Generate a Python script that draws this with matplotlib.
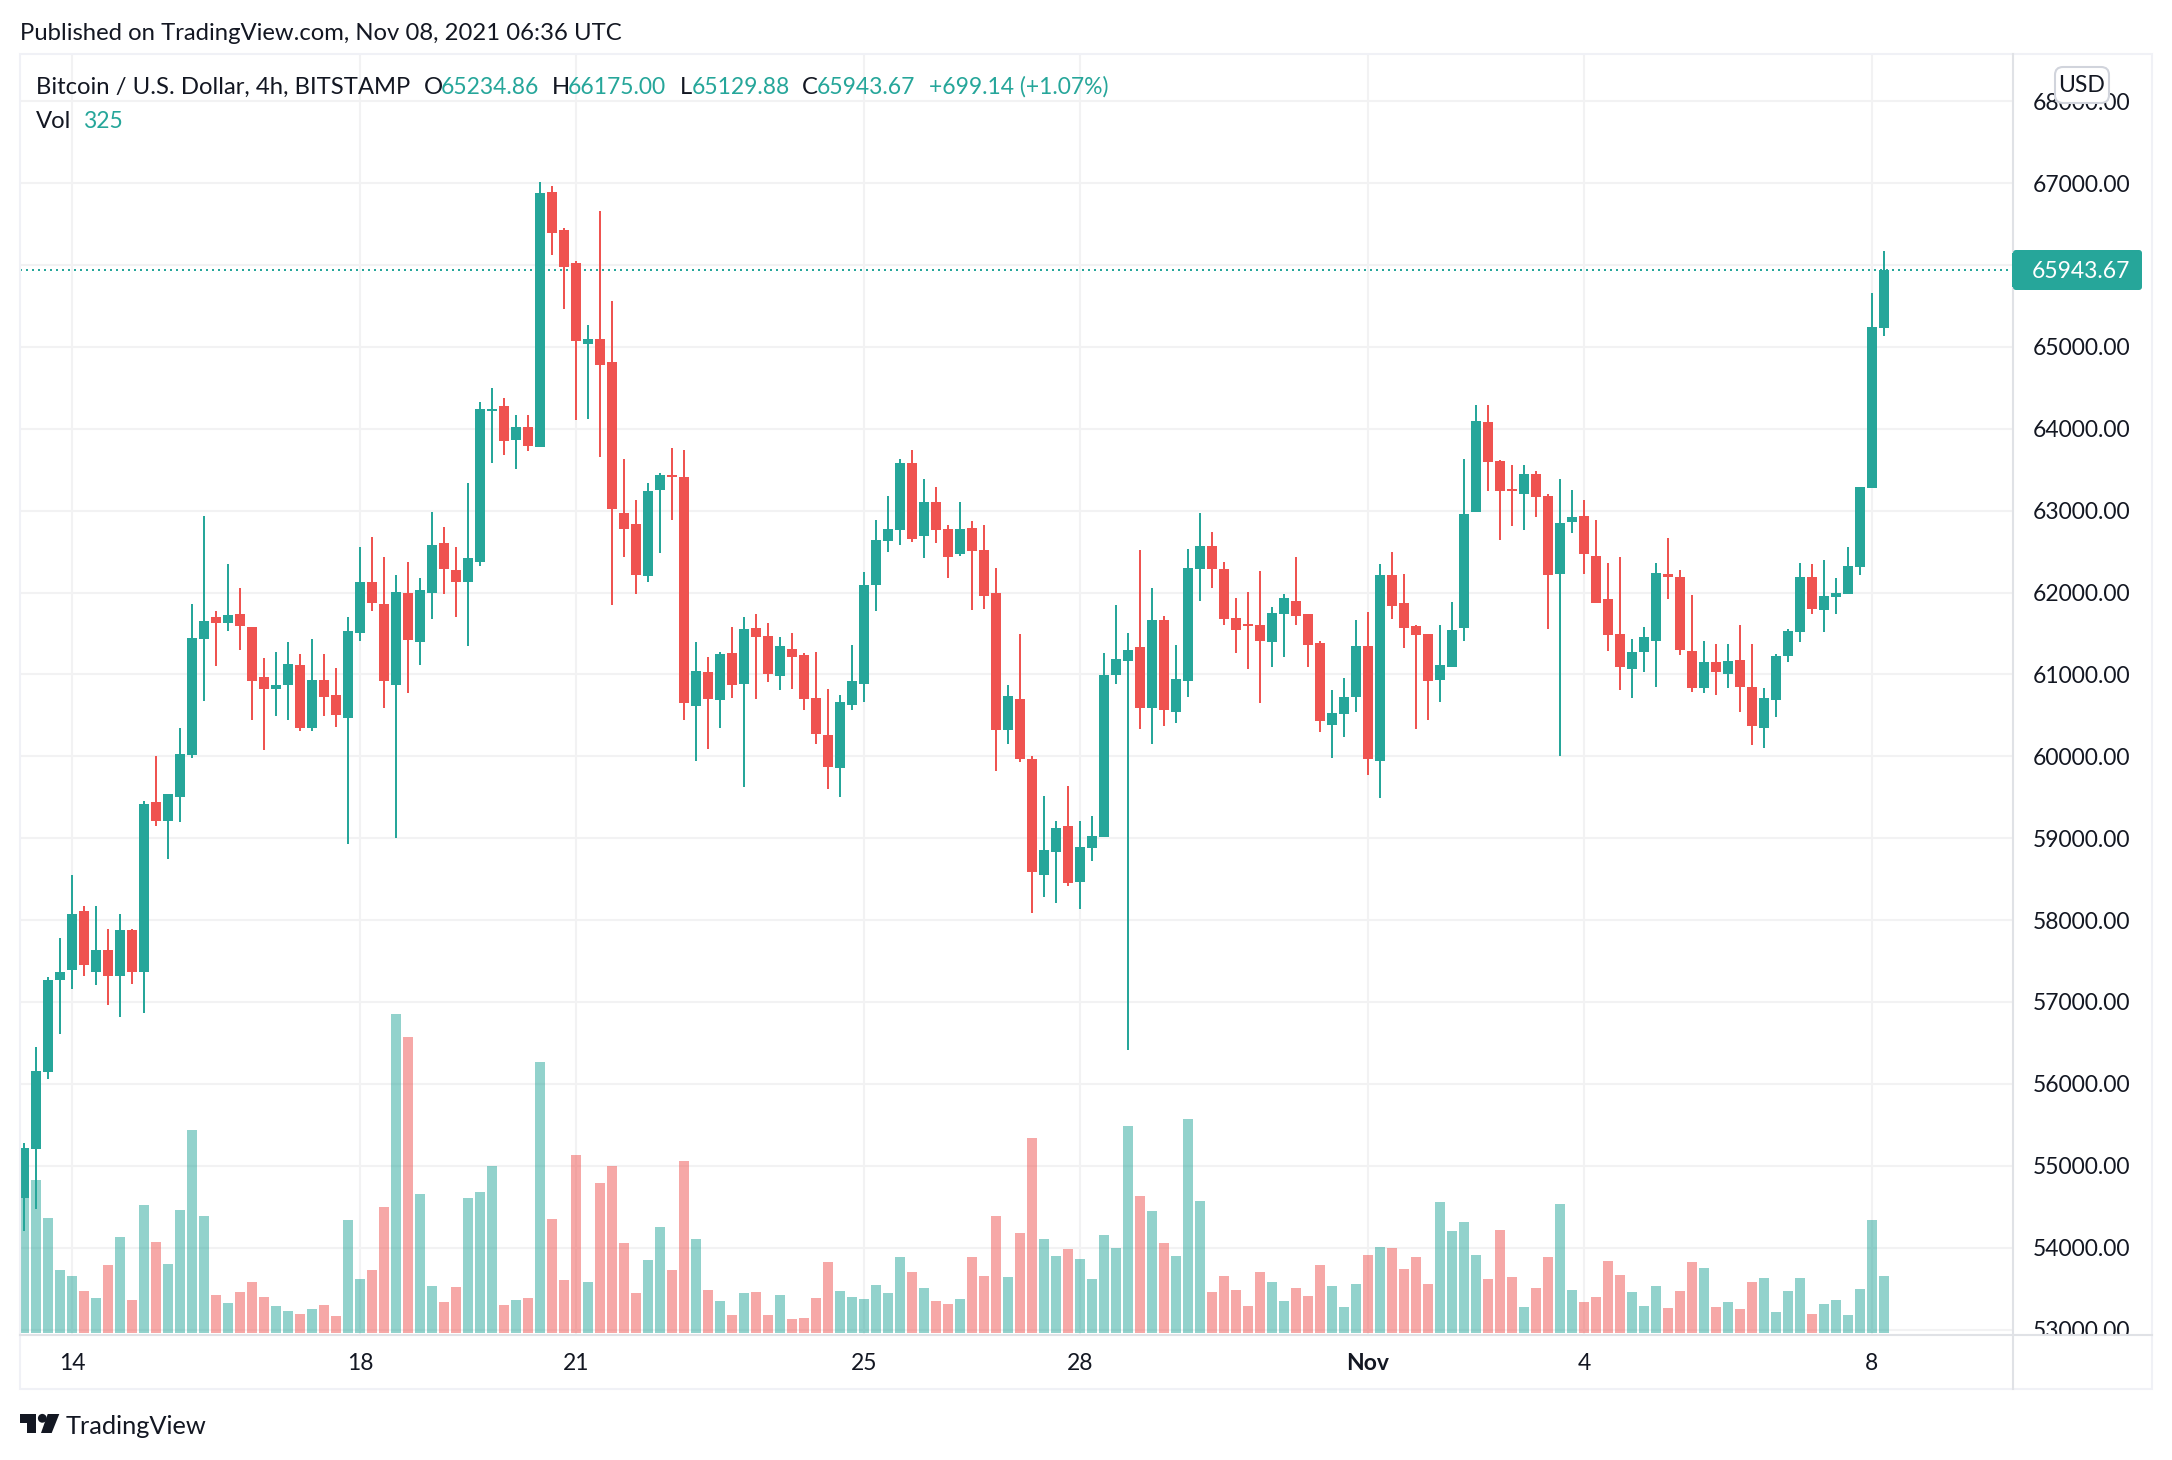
import matplotlib
matplotlib.use("Agg")
import matplotlib.pyplot as plt
import numpy as np
from matplotlib.lines import Line2D
from matplotlib.patches import Rectangle, FancyBboxPatch, Polygon, Circle
from matplotlib.transforms import Bbox

opens = [54607,55210,56150,57266,57385,58106,57371,57630,57315,57875,57364,59444,59213,59507,60018,61433,61706,61629,61741,61580,
60963,60823,60872,61117,60340,60935,60753,60473,61510,62133,61860,60872,62000,61398,62000,62609,62280,62133,62378,64220,
64276,63863,64024,63779,66888,66428,66024,65035,65097,64817,62976,62833,62199,63256,63430,63405,60613,61030,60688,61260,
60880,61565,61465,60980,61310,61235,60713,60258,59854,60626,60880,62087,62634,62759,63586,62684,63101,62771,62466,62784,
62516,62000,60321,60700,59966,58546,58826,59145,58462,58876,59010,60987,61166,61340,60595,61670,60545,60914,62292,62572,
62281,61693,61620,61609,61390,61743,61900,61743,61379,60388,60511,60718,61351,59940,62208,61866,61586,61497,60937,61094,
61570,62986,64084,63608,63261,63205,63451,63180,62230,62862,62936,62448,61925,61499,61072,61268,61411,62230,62191,61290,
60828,61155,61000,61181,60850,60340,60693,61229,61520,62191,61790,61947,61986,62313,63280,65234.86]
highs = [55278,56450,57301,57777,58547,58169,58176,57896,58078,57896,59458,60000,59542,60347,61860,62938,61769,62350,62049,61580,
61202,61279,61391,61251,61433,61251,61082,61706,62560,62679,62434,62217,62378,62182,62987,62805,62560,63337,64325,64500,
64374,64171,64171,67012,66963,66453,66049,65271,66658,65563,63636,63126,63343,63455,63760,63735,61390,61210,61272,61577,
61695,61733,61627,61453,61502,61260,61272,60818,60744,61353,62249,62889,63182,63636,63735,63381,63293,62821,63101,62877,
62821,62305,60868,61490,60000,59520,59206,59632,59206,59268,61256,61850,61508,62522,62057,61715,61362,62533,62975,62740,
62376,61928,62001,62264,61827,61984,62438,61743,61402,60814,60959,61659,61766,62354,62499,62230,61609,61497,61609,61878,
63630,64291,64291,63619,63558,63558,63485,63205,63389,63254,63132,62888,62365,62435,61438,61573,62365,62670,62278,61973,
61411,61377,61377,61608,61377,60828,61250,61555,62365,62348,62400,62182,62557,63288,65658,66175]
lows = [54204,54476,56063,56615,57154,57322,57203,56958,56811,57224,56860,59143,58750,59192,59983,60676,61103,61531,61293,60445,
60081,60487,60445,60312,60312,60487,60361,58926,61412,61776,60585,59000,60767,61117,61671,61986,61706,61342,62329,63583,
63681,63513,63730,63772,66123,65464,64108,64121,63660,61844,62429,61987,62124,62479,62889,60439,59941,60091,60346,60713,
59624,60700,60905,60806,60818,60563,60147,59599,59506,60563,60663,61770,62491,62585,62622,62417,62609,62174,62441,61782,
61795,59817,60147,59929,58088,58277,58204,58411,58131,58719,59010,60886,56412,60338,60147,60366,60410,60730,61900,62057,
61609,61267,61060,60646,61094,61217,61609,61094,60293,59985,60231,60545,59766,59486,61682,61318,60338,60438,60657,61094,
61402,62986,63244,62645,62813,62768,62925,61558,60009,62731,62230,61877,61290,60815,60706,61033,60841,61925,61242,60789,
60767,60754,60828,60536,60144,60101,60475,61155,61390,61742,61516,61742,61986,62217,63280,65129.88]
closes = [55217,56158,57266,57371,58078,57448,57630,57315,57875,57364,59423,59206,59542,60032,61447,61657,61622,61720,61594,60921,
60823,60865,61131,60340,60935,60725,60508,61531,62133,61874,60914,62007,61426,62035,62574,62287,62133,62427,64241,64241,
63849,64024,63793,66876,66391,65974,65072,65097,64780,63014,62771,62211,63244,63430,63405,60650,61036,60700,61247,60868,
61552,61453,61000,61341,61210,60700,60271,59867,60663,60918,62087,62647,62771,63586,62659,63101,62759,62429,62771,62504,
61963,60321,60731,59966,58592,58854,59122,58450,58887,59022,60987,61183,61301,60584,61670,60562,60948,62303,62572,62292,
61682,61547,61586,61402,61754,61928,61715,61362,60427,60534,60730,61351,59962,62219,61838,61570,61486,60914,61110,61547,
62964,64095,63597,63244,63238,63451,63171,62219,62853,62923,62474,61877,61485,61094,61276,61451,62243,62191,61303,60828,
61146,61024,61168,60841,60375,60706,61229,61533,62191,61803,61960,62000,62326,63288,65240,65943.67]
volumes = [799,876,658,359,325,239,199,388,549,187,732,520,394,704,1162,669,216,170,233,291,
205,153,124,107,136,159,96,646,308,359,721,1828,1696,795,268,176,262,772,807,956,
159,187,199,1553,652,302,1019,291,858,956,514,228,417,606,359,985,537,245,182,101,
228,233,101,216,78,84,199,405,239,205,193,273,228,434,348,256,182,164,193,434,
325,669,319,572,1117,537,440,480,423,308,560,486,1185,784,698,514,440,1226,755,233,
325,245,153,348,291,182,256,210,388,268,147,279,445,491,486,365,434,279,750,583,
635,445,308,589,319,147,256,434,738,245,176,205,411,331,233,153,268,141,239,405,
371,147,176,136,291,314,119,239,314,107,164,187,101,250,646,325]
price_ticks = [53000,54000,55000,56000,57000,58000,59000,60000,61000,62000,63000,64000,65000,66000,67000,68000]
day_positions = [4,28,46,70,88,112,130,154]
day_labels = ["14","18","21","25","28","Nov","4","8"]
last_price = 65943.67

W, H = 2172, 1460
DPI = 100
UP, DOWN = "#26a69a", "#ef5350"
INK = "#131722"
FONT = "Lato"
plt.rcParams["font.family"] = [FONT, "DejaVu Sans"]
FS = 16.5
FS_TEXT = 17.2

fig = plt.figure(figsize=(W/DPI, H/DPI), dpi=DPI, facecolor="white")
def fx(x): return x/W
def fy(y): return 1-y/H
L, R, T, B = 20, 2013, 55, 1335
rect = [fx(L), fy(B), (R-L)/W, (B-T)/H]

ax = fig.add_axes(rect, zorder=2, facecolor="none")
ax_grid = fig.add_axes(rect, zorder=0, facecolor="white", sharex=ax, sharey=ax)
ax_vol = fig.add_axes(rect, zorder=1, facecolor="none", sharex=ax)

n = len(opens)
idx = np.arange(n)
o, h, l, c = map(np.array, (opens, highs, lows, closes))
up = c >= o
colors = np.where(up, UP, DOWN)

ax.set_xlim(-1/3, 165.75)
ax.set_ylim(52934, 68563)
ax_vol.set_ylim(-13.2, 7329)

# grid
ax_grid.set_xticks(day_positions)
ax_grid.set_yticks(price_ticks)
ax_grid.grid(True, color="#f2f2f3", lw=1.5)
ax_grid.tick_params(length=0, labelleft=False, labelbottom=False, labelright=False)
for a in (ax, ax_grid, ax_vol):
    for s in a.spines.values():
        s.set_visible(False)
ax_vol.set_yticks([])
ax_vol.tick_params(length=0, labelbottom=False, labelleft=False)

# volume
ax_vol.bar(idx, volumes, width=10/12, color=colors, alpha=0.5, linewidth=0)

# last price line
ax.axhline(last_price, color=UP, lw=1.44, ls=(0, (1, 2)), zorder=1)

# candles
ax.vlines(idx, l, h, colors=colors, lw=1.44, zorder=2)
body_low = np.minimum(o, c)
body_h = np.maximum(np.abs(c-o), 18)
ax.bar(idx, body_h, bottom=body_low, width=10/12, color=colors, linewidth=0, zorder=3)

# axes labels
ax.yaxis.tick_right()
ax.set_yticks(price_ticks)
ax.set_yticklabels([f"{p:.2f}" for p in price_ticks], fontsize=FS, color=INK)
ax.tick_params(axis="y", length=0, pad=14.4)
ax.set_xticks(day_positions)
ax.set_xticklabels(day_labels, fontsize=FS, color=INK)
ax.tick_params(axis="x", length=0, pad=13)
for lab, txt in zip(ax.get_xticklabels(), day_labels):
    if txt == "Nov":
        lab.set_fontweight("bold")
# price scale labels are cut off at the time axis
clip = Bbox.from_extents(R, H-B, 2152, H-T+20)
for t_ in ax.yaxis.get_major_ticks():
    t_.label2.set_clip_box(clip)
    t_.label2.set_clip_on(True)
    if t_.label2.get_text() == "66000.00":
        t_.label2.set_visible(False)  # fully covered by the last price tag

# frame
frame = "#f0f1f6"; sep = "#e0e2e6"
fig.add_artist(Rectangle((fx(20), fy(1389)), 2132/W, (1389-54)/H, transform=fig.transFigure,
                         fill=False, edgecolor=frame, lw=1.5, zorder=4))
fig.add_artist(Line2D([fx(R), fx(R)], [fy(54), fy(1389)], color=sep, lw=1.5, zorder=4))
fig.add_artist(Line2D([fx(20), fx(2152)], [fy(B), fy(B)], color=sep, lw=1.5, zorder=4))

# last price tag
fig.add_artist(FancyBboxPatch((2016, H-287), 123, 34, boxstyle="round,pad=3,rounding_size=3", transform=None,
                              facecolor=UP, edgecolor="none", zorder=5, mutation_aspect=1))
fig.add_artist(Rectangle((2012, H-287-3+3), 10, 34, transform=None, facecolor=UP, edgecolor="none", zorder=5))
fig.text(fx(2081), fy(270), f"{last_price:.2f}", color="white", fontsize=FS, ha="center", va="center_baseline", zorder=6)

# USD badge
badge = FancyBboxPatch((2057, H-101), 50, 32, boxstyle="round,pad=2,rounding_size=8",
                       transform=None, facecolor="white", edgecolor="#d1d4dc", lw=1.5, zorder=5)
fig.add_artist(badge)
fig.text(fx(2082), fy(84), "USD", color=INK, fontsize=FS, ha="center", va="center_baseline", zorder=6)

# header
def t(x, y, s, color=INK, size=FS_TEXT, **kw):
    fig.text(fx(x), fy(y), s, color=color, fontsize=size, ha="left", va="center_baseline", zorder=6, **kw)
t(20, 31, "Published on TradingView.com, Nov 08, 2021 06:36 UTC")
t(36, 85, "Bitcoin / U.S. Dollar, 4h, BITSTAMP")
for x, s, col in [(424, "O", INK), (441, "65234.86", UP), (552, "H", INK), (568, "66175.00", UP),
                  (680, "L", INK), (692, "65129.88", UP), (802, "C", INK), (817, "65943.67", UP),
                  (929, "+699.14 (+1.07%)", UP)]:
    t(x, 85, s, col, size=FS if s[0] in "6+" else FS_TEXT)
t(36, 119, "Vol")
t(83, 119, "325", UP, size=FS)

# logo
logo = "#131722"
def poly(pts):
    fig.add_artist(Polygon([[fx(a), fy(b)] for a, b in pts], closed=True, transform=fig.transFigure,
                           facecolor=logo, edgecolor="none", zorder=6))
poly([(20, 1414), (36, 1414), (36, 1433), (27.3, 1433), (27.3, 1423), (20, 1423)])
fig.add_artist(Circle((42.3, H-1418.3), 4.4, transform=None, facecolor=logo, edgecolor="none", zorder=6))
poly([(47.7, 1414), (59.3, 1414), (51.7, 1433), (41, 1433)])
t(66, 1425, "TradingView", size=18.3)

fig.savefig("out.png", dpi=DPI, facecolor="white")
